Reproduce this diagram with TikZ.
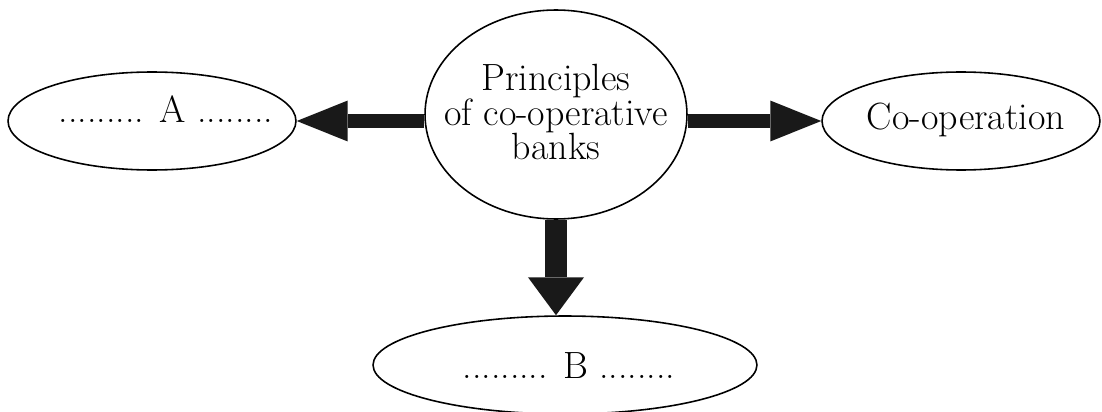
\documentclass[tikz,border=0pt]{standalone}
\usetikzlibrary{shapes.geometric,arrows.meta}
\newcommand\mylblfont{\fontsize{21.6}{19.4}\selectfont}
\begin{document}
\begin{tikzpicture}[x=0.02cm,y=-0.02cm,
  oval/.style={draw,ellipse,line width=0.9pt,inner sep=0pt},
  lbl/.style={font=\mylblfont},
  harrow/.style={draw=black!90,line width=8.5pt,-{Triangle[length=29pt,width=23.3pt,line width=0pt,fill=black!90]}},
  varrow/.style={draw=black!90,line width=12pt,-{Triangle[length=21.6pt,width=31.9pt,line width=0pt,fill=black!90]}}]
\useasboundingbox (0,0) rectangle (1102,412);
\node[oval,minimum width=5.24cm,minimum height=4.18cm] (c) at (556,114.5) {};
\node[oval,minimum width=5.76cm,minimum height=1.96cm] (a) at (152,121) {};
\node[oval,minimum width=5.56cm,minimum height=1.96cm] (r) at (961,121) {};
\node[oval,minimum width=7.68cm,minimum height=1.96cm] (b) at (565,365) {};
\node[lbl,align=center,inner sep=0pt] (ct) at (556,112) {Principles\\of co-operative\\banks};
\node[lbl,anchor=base,inner sep=0pt] (at) at (166,123) {......... A ........};
\node[lbl,anchor=base,inner sep=0pt] (rt) at (966,130) {Co-operation};
\node[lbl,anchor=base,inner sep=0pt] (bt) at (569,378) {......... B ........};
\draw[harrow] (c.west |- a.east) -- (a.east);
\draw[harrow] (c.east |- r.west) -- (r.west);
\draw[varrow] (c.south) -- (c.south |- b.north);
\end{tikzpicture}
\end{document}
